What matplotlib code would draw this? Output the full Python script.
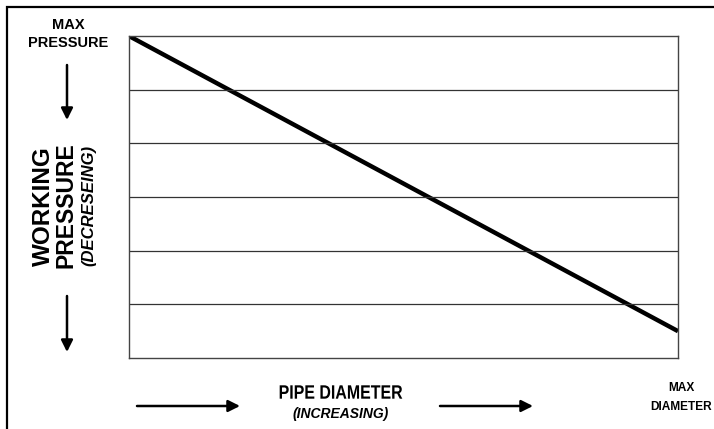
import matplotlib
matplotlib.use("Agg")
import matplotlib.pyplot as plt
from matplotlib.font_manager import FontProperties
from matplotlib.patches import PathPatch, Rectangle
from matplotlib.textpath import TextPath
from matplotlib.transforms import Affine2D

# Schematic data: pressure falls as diameter grows
diameter = [0.0, 1.0]
pressure = [6.0, 0.5]
grid_levels = [1, 2, 3, 4, 5]

plt.rcParams["font.family"] = ["Liberation Sans", "DejaVu Sans"]

W, H = 714, 429
DPI = 100
fig = plt.figure(figsize=(W / DPI, H / DPI), dpi=DPI)

# outer frame (runs off right and bottom edges)
fig.patches.append(Rectangle((7 / W, -0.05), 1.1, 1 - 7 / H + 0.05,
                             transform=fig.transFigure, fill=False,
                             edgecolor="black", linewidth=1.6))

ax = fig.add_axes([129 / W, 1 - 358 / H, (678 - 129) / W, (358 - 36) / H])
ax.plot(diameter, pressure, color="black", linewidth=3.2, solid_capstyle="butt")
for g in grid_levels:
    ax.axhline(g, color="#333333", linewidth=0.9)
ax.set_xlim(0, 1)
ax.set_ylim(0, 6)
ax.set_xticks([])
ax.set_yticks([])
for s in ax.spines.values():
    s.set_color("#444444")
    s.set_linewidth(1.0)


def px(x, y):
    return x / W, 1 - y / H


def arrow(x0, y0, x1, y1):
    ax.annotate("", xy=px(x1, y1), xytext=px(x0, y0),
                xycoords="figure fraction", textcoords="figure fraction",
                arrowprops=dict(arrowstyle="-|>,head_length=0.7,head_width=0.35",
                                color="black", lw=1.8, shrinkA=0, shrinkB=0))


def condensed_text(x, y, s, size, squeeze):
    # the original caption is horizontally squashed, so draw it as a path
    tp = TextPath((0, 0), s, size=size,
                  prop=FontProperties(family="Liberation Sans", weight="bold"))
    ext = tp.get_extents()
    cx, cy = (ext.x0 + ext.x1) / 2, (ext.y0 + ext.y1) / 2
    xi, yi = x / DPI, (H - y) / DPI
    tr = (Affine2D().translate(-cx, -cy).scale(squeeze / 72, 1 / 72)
          .translate(xi, yi) + fig.dpi_scale_trans)
    fig.patches.append(PathPatch(tp, transform=tr, facecolor="black",
                                 edgecolor="none"))


bold = dict(fontweight="bold", ha="center", va="center", color="black")

# left side labels
fig.text(*px(68, 25), "MAX", fontsize=10.5, **bold)
fig.text(*px(68, 43), "PRESSURE", fontsize=10.5, **bold)
arrow(67, 65, 67, 120)
fig.text(*px(43, 206), "WORKING", fontsize=17.5, rotation=90, **bold)
fig.text(*px(66, 205), "PRESSURE", fontsize=16.5, rotation=90, **bold)
fig.text(*px(89, 205), "(DECRESEING)", fontsize=12, rotation=90,
         fontstyle="italic", **bold)
arrow(67, 296, 67, 352)

# bottom labels
arrow(137, 406, 240, 406)
condensed_text(341, 392, "PIPE DIAMETER", 14, 0.82)
fig.text(*px(341, 414), "(INCREASING)", fontsize=10, fontstyle="italic", **bold)
arrow(440, 406, 533, 406)
fig.text(*px(681, 388), "MAX", fontsize=8.6, **bold)
fig.text(*px(681, 407), "DIAMETER", fontsize=8.6, **bold)

fig.savefig("out.png", dpi=DPI)
